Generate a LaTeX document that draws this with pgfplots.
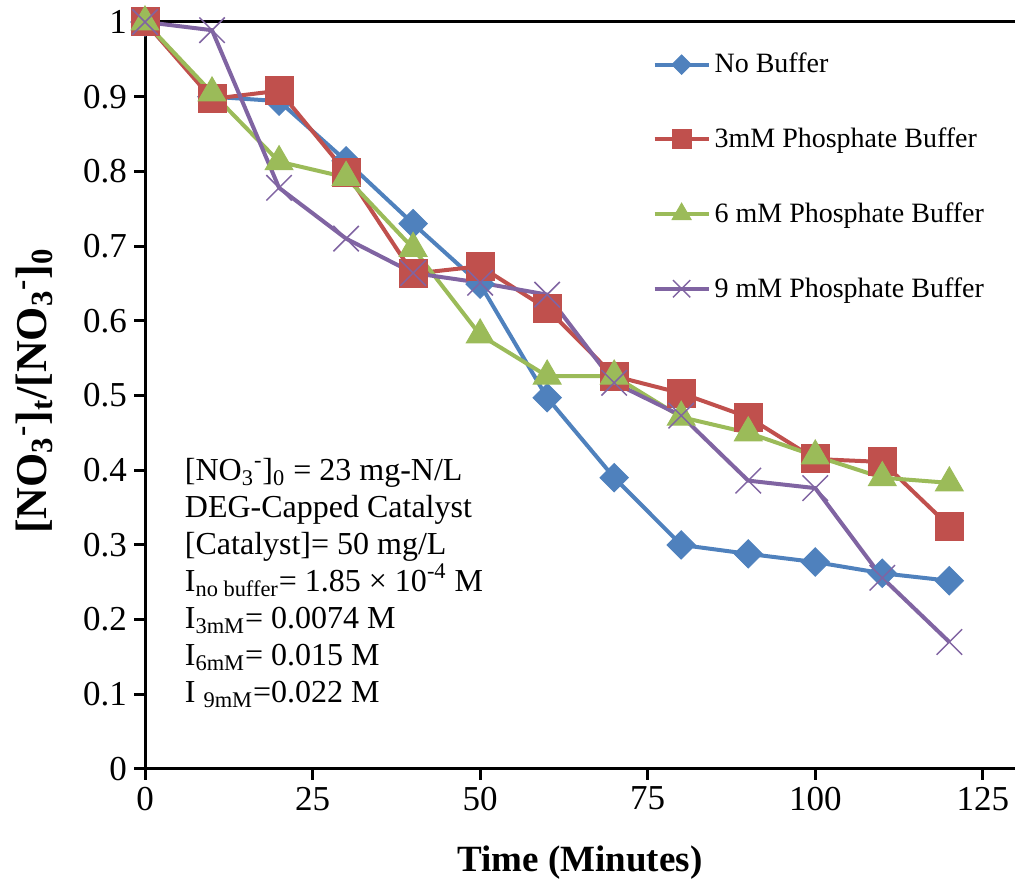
\documentclass[border=0pt]{standalone}
\usepackage{fontspec}
\setmainfont{Liberation Serif}
\usepackage{pgfplots}
\pgfplotsset{compat=1.18}
\definecolor{cblue}{HTML}{4F81BD}
\definecolor{cred}{HTML}{C0504D}
\definecolor{cgreen}{HTML}{9BBB59}
\definecolor{cpurple}{HTML}{8064A2}
\begin{document}
\begin{tikzpicture}
\useasboundingbox (-72.5pt,-58.5pt) rectangle (435pt,384.5pt);
\begin{axis}[
  at={(0,0)}, anchor=south west,
  scale only axis, width=435pt, height=373.5pt,
  xmin=0, xmax=129.8, ymin=0, ymax=1,
  clip=false,
  axis lines*=left,
  axis line style={line width=1.5pt,-},
  xtick={0,25,50,75,100,125},
  ytick={0,0.1,0.2,0.3,0.4,0.5,0.6,0.7,0.8,0.9,1},
  tick align=outside,
  major tick length=5.5pt,
  tick style={line width=1.5pt, black},
  /pgf/number format/assume math mode=true,
  ticklabel style={font=\fontsize{17.5}{20}\selectfont},
  xlabel={\textbf{Time (Minutes)}},
  ylabel={\textbf{[NO\textsubscript{3}\textsuperscript{-}]\textsubscript{t}/[NO\textsubscript{3}\textsuperscript{-}]\textsubscript{0}}},
  xlabel style={font=\fontsize{18.5}{22}\selectfont, at={(axis description cs:0.5,-0.1017)}, anchor=north, inner sep=0pt},
  ylabel style={font=\fontsize{22}{26}\selectfont, at={(axis description cs:-0.127,0.506)}, anchor=center, inner sep=0pt},
  legend style={at={(rel axis cs:0.583,0.964)}, anchor=north west, draw=none, fill=none,
    font=\fontsize{14}{16}\selectfont, row sep=22pt, inner sep=0pt,
    nodes={inner xsep=2pt}},
  legend cell align=left,
  legend image code/.code={%
    \draw[mark repeat=2,mark phase=2,#1, every mark/.append style={scale=0.68}]
      plot coordinates {(0pt,0pt) (13.5pt,0pt) (27pt,0pt)};},
  every axis plot/.append style={line width=2pt},
]
\draw[line width=1.5pt] (rel axis cs:0,1) -- (rel axis cs:1,1);
\addplot[cblue, mark=square*, mark size=5pt, mark options={solid, rotate=45, line width=0.5pt}] coordinates {
(0,1.0) (10,0.90) (20,0.894) (30,0.814) (40,0.730) (50,0.649) (60,0.497)
(70,0.390) (80,0.300) (90,0.288) (100,0.277) (110,0.262) (120,0.252)};
\addlegendentry{No Buffer}
\addplot[cred, mark=square*, mark size=7pt, mark options={solid, line width=0.5pt}] coordinates {
(0,1.0) (10,0.897) (20,0.908) (30,0.799) (40,0.663) (50,0.673) (60,0.616)
(70,0.526) (80,0.503) (90,0.471) (100,0.415) (110,0.411) (120,0.325)};
\addlegendentry{3mM Phosphate Buffer}
\addplot[cgreen, mark=triangle*, mark size=8pt, mark options={solid, line width=0.5pt}] coordinates {
(0,1.0) (10,0.905) (20,0.813) (30,0.792) (40,0.697) (50,0.581) (60,0.526)
(70,0.526) (80,0.471) (90,0.450) (100,0.419) (110,0.390) (120,0.383)};
\addlegendentry{6 mM Phosphate Buffer}
\addplot[cpurple, mark=x, mark size=9pt, mark options={solid, line width=0.75pt}] coordinates {
(0,1.0) (10,0.989) (20,0.778) (30,0.710) (40,0.664) (50,0.651) (60,0.635)
(70,0.517) (80,0.473) (90,0.386) (100,0.376) (110,0.256) (120,0.170)};
\addlegendentry{9 mM Phosphate Buffer}
\node[anchor=north west, align=left, inner sep=0pt, font=\fontsize{16}{18.5}\selectfont]
  at (axis cs:5.9,0.417) {%
  {[}NO\textsubscript{3}\textsuperscript{-}{]}\textsubscript{0} = 23 mg-N/L\\{}%
  DEG-Capped Catalyst\\{}%
  {[}Catalyst{]}= 50 mg/L\\{}%
  I\textsubscript{no buffer}= 1.85 × 10\textsuperscript{-4} M\\{}%
  I\textsubscript{3mM}= 0.0074 M\\{}%
  I\textsubscript{6mM}= 0.015 M\\{}%
  I \textsubscript{9mM}=0.022 M};
\end{axis}
\end{tikzpicture}
\end{document}
